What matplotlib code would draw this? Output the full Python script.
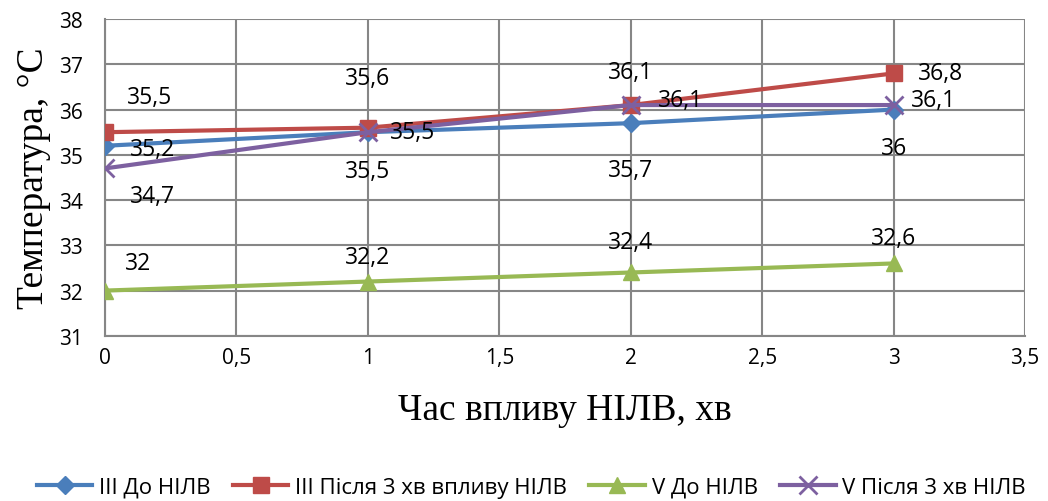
import matplotlib
matplotlib.use("Agg")
import matplotlib.pyplot as plt

x = [0, 1, 2, 3]
series_names = ["III До НІЛВ", "III Після 3 хв впливу НІЛВ", "V До НІЛВ", "V Після 3 хв НІЛВ"]
iii_before = [35.2, 35.5, 35.7, 36.0]
iii_after = [35.5, 35.6, 36.1, 36.8]
v_before = [32.0, 32.2, 32.4, 32.6]
v_after = [34.7, 35.5, 36.1, 36.1]
xticks = [0, 0.5, 1, 1.5, 2, 2.5, 3, 3.5]
xtick_labels = ["0", "0,5", "1", "1,5", "2", "2,5", "3", "3,5"]
yticks = [31, 32, 33, 34, 35, 36, 37, 38]

colors = ["#4A7EBB", "#BE4B48", "#98B954", "#7D60A0"]
markers = ["D", "s", "^", "x"]
msizes = [9, 12, 12, 13]
all_series = [iii_before, iii_after, v_before, v_after]

# label offsets (points) per series per point
offsets = [
    [(34, -2), (0, -28), (0, -34), (0, -28)],
    [(32, 25), (0, 36), (0, 24), (34, 0)],
    [(24, 20), (0, 18), (0, 22), (0, 18)],
    [(34, -20), (32, 0), (36, 4), (29, 4)],
]

fig = plt.figure(figsize=(10.48, 5.02), dpi=100)
ax = fig.add_axes([0.1002, 0.329, 0.878, 0.631])

for vals, c, m, ms, name, offs in zip(all_series, colors, markers, msizes, series_names, offsets):
    mew = 2 if m == "x" else 1
    ax.plot(x, vals, color=c, lw=3, marker=m, markersize=ms, markeredgewidth=mew,
            label=name, zorder=3)
    for xi, v, o in zip(x, vals, offs):
        lab = ("%g" % v).replace(".", ",")
        ax.annotate(lab, (xi, v), xytext=o, textcoords="offset points",
                    ha="center", va="center", fontsize=16.5, family="Open Sans",
                    color="black", zorder=4)

ax.set_xlim(0, 3.5)
ax.set_ylim(31, 38)
ax.set_xticks(xticks)
ax.set_xticklabels(xtick_labels)
ax.set_yticks(yticks)
ax.grid(True, color="#868686", lw=1.5, zorder=0)
ax.set_axisbelow(True)
for s in ["top", "right"]:
    ax.spines[s].set_visible(False)
for s in ["left", "bottom"]:
    ax.spines[s].set_color("#868686")
    ax.spines[s].set_linewidth(1.5)
ax.tick_params(axis="x", length=0, labelsize=15, pad=8)
ax.tick_params(axis="y", length=0, labelsize=15, pad=16)
for t in ax.get_xticklabels() + ax.get_yticklabels():
    t.set_family("Open Sans")

ax.set_xlabel("Час впливу НІЛВ, хв", family="Liberation Serif", fontsize=27, labelpad=18)
ax.set_ylabel("Температура, °С", family="Liberation Serif", fontsize=27, labelpad=6)

leg = fig.legend(loc="center", bbox_to_anchor=(0.507, 0.027), ncol=4, frameon=False,
                 prop={"family": "Open Sans", "size": 16},
                 handlelength=2.5, columnspacing=1.0, handletextpad=0.3)

fig.savefig("out.png", dpi=100)
